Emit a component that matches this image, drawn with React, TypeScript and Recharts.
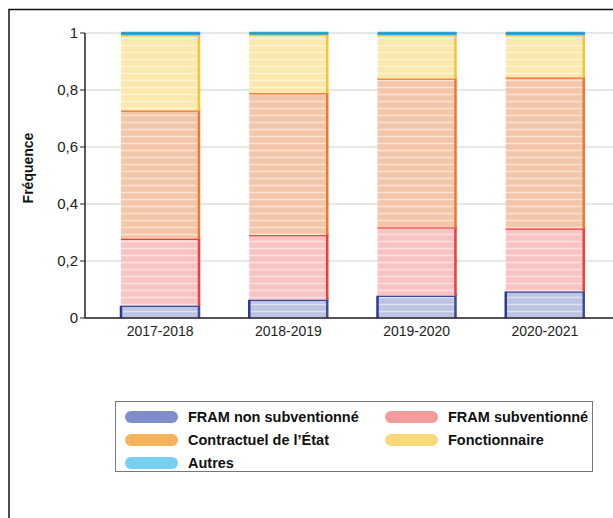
import { BarChart, Bar, XAxis, YAxis, CartesianGrid } from 'recharts'

const years = ['2017-2018', '2018-2019', '2019-2020', '2020-2021']
const framNonSubv = [0.043, 0.064, 0.078, 0.093]
const framSubv = [0.235, 0.227, 0.24, 0.221]
const contractuel = [0.45, 0.498, 0.522, 0.53]
const fonctionnaire = [0.265, 0.205, 0.153, 0.149]
const autres = [0.007, 0.006, 0.007, 0.007]
const yTicks = [0, 0.2, 0.4, 0.6, 0.8, 1]

const series = [
  { key: 'nonSubv', name: 'FRAM non subventionné', fill: '#bcc4e2', stroke: '#2a3a98', swatch: '#6b78c2', values: framNonSubv },
  { key: 'subv', name: 'FRAM subventionné', fill: '#f9c3c3', stroke: '#ee2b2b', swatch: '#f28b8b', values: framSubv },
  { key: 'contr', name: 'Contractuel de l’État', fill: '#f3c6aa', stroke: '#f06a1c', swatch: '#f3a640', values: contractuel },
  { key: 'fonc', name: 'Fonctionnaire', fill: '#fce7ad', stroke: '#f8c01c', swatch: '#f8d262', values: fonctionnaire },
  { key: 'autres', name: 'Autres', fill: '#3aaee0', stroke: '#1c9ad6', swatch: '#5ec8ef', values: autres },
]

const data = years.map((year, i) => {
  const row: Record<string, string | number> = { year }
  series.forEach(s => { row[s.key] = s.values[i] })
  return row
})

const font = '"Liberation Sans", Arial, sans-serif'

function sketchShape(s: typeof series[number]) {
  return (props: any) => {
    const { x, y, width, height } = props
    if (!height || height <= 0) return <g />
    return (
      <g>
        <rect x={x} y={y} width={width} height={height} fill={`url(#pat-${s.key})`} />
        <path
          d={`M${x},${y} L${x + width},${y} L${x + width},${y + height}`}
          fill="none"
          stroke={s.stroke}
          strokeWidth={2.5}
          opacity={0.9}
        />
        {s.key === 'nonSubv' && (
          <path d={`M${x},${y} L${x},${y + height}`} fill="none" stroke={s.stroke} strokeWidth={2.5} />
        )}
      </g>
    )
  }
}

export default function App() {
  return (
    <div style={{ position: 'absolute', left: 0, top: 0, width: 613, height: 518, background: '#fff', fontFamily: font }}>
      <BarChart width={613} height={518} data={data} margin={{ top: 33, right: 0, left: 0, bottom: 170 }}>
        <defs>
          {series.map(s => (
            <pattern key={s.key} id={`pat-${s.key}`} width={10} height={7} patternUnits="userSpaceOnUse">
              <rect width={10} height={7} fill={s.fill} />
              <path d="M0,3.5 L10,3.5" stroke="#fff" strokeWidth={1.5} opacity={0.5} />
            </pattern>
          ))}
        </defs>
        <CartesianGrid vertical={false} stroke="#cfcfcf" strokeWidth={1.2} />
        <XAxis
          dataKey="year"
          height={30}
          tickLine={false}
          axisLine={{ stroke: '#222', strokeWidth: 1.5 }}
          padding={{ left: 11, right: 4 }}
          tick={{ fill: '#222', fontSize: 14, fontFamily: font }}
        />
        <YAxis
          width={85}
          domain={[0, 1]}
          ticks={yTicks}
          tickSize={5}
          tickFormatter={(v: number) => String(v).replace('.', ',')}
          axisLine={{ stroke: '#222', strokeWidth: 1.5 }}
          tickLine={{ stroke: '#222' }}
          tick={{ fill: '#222', fontSize: 15, fontFamily: font }}
        />
        {series.map(s => (
          <Bar
            key={s.key}
            dataKey={s.key}
            stackId="a"
            barSize={78}
            isAnimationActive={false}
            shape={sketchShape(s)}
          />
        ))}
      </BarChart>
      <svg width={613} height={518} style={{ position: 'absolute', left: 0, top: 0, pointerEvents: 'none' }}>
        <path d="M9,518 L9,9.5 L613,9.5" fill="none" stroke="#111" strokeWidth={1.5} />
        <text
          x={28}
          y={168}
          transform="rotate(-90 28 168)"
          textAnchor="middle"
          dominantBaseline="central"
          fontSize={14}
          fontWeight="bold"
          fontFamily={font}
          fill="#111"
        >
          Fréquence
        </text>
      </svg>
      <div
        style={{
          position: 'absolute', left: 115, top: 401, width: 478, height: 71,
          border: '1px solid #777', boxSizing: 'border-box',
        }}
      >
        {series.map((s, i) => {
          const col = i % 2
          const row = Math.floor(i / 2)
          return (
            <div
              key={s.key}
              style={{
                position: 'absolute', left: col === 0 ? 9 : 269, top: 5 + row * 23,
                display: 'flex', alignItems: 'center', height: 20,
              }}
            >
              <span
                style={{
                  display: 'inline-block', width: 53, height: 12, borderRadius: 6,
                  background: s.swatch, opacity: 0.85, marginRight: 10,
                }}
              />
              <span style={{ fontSize: 14.5, fontWeight: 'bold', color: '#111', whiteSpace: 'nowrap' }}>{s.name}</span>
            </div>
          )
        })}
      </div>
    </div>
  )
}
